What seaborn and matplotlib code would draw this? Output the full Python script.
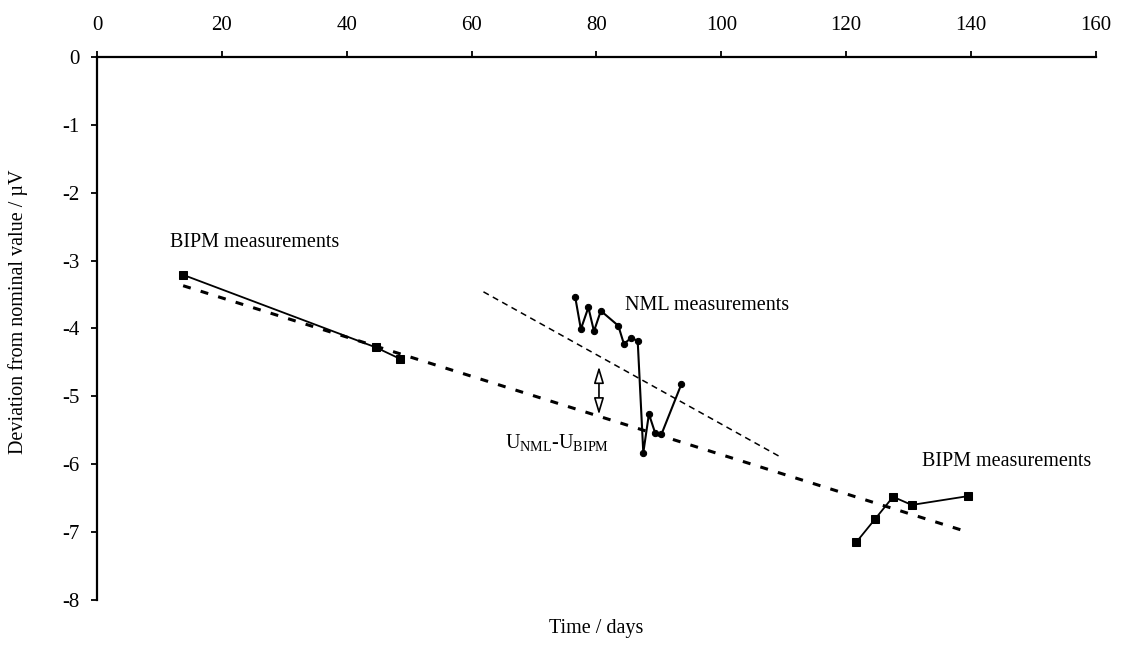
import matplotlib
matplotlib.use('Agg')
import matplotlib.pyplot as plt
import seaborn as sns
import pandas as pd

# ---- data ----
bipm1_days = [13.8, 44.7, 48.6]
bipm1_dev = [-3.21, -4.28, -4.45]

nml_days = [76.6, 77.5, 78.7, 79.6, 80.7, 83.5, 84.4, 85.5, 86.6, 87.5, 88.4, 89.4, 90.4, 93.6]
nml_dev = [-3.54, -4.01, -3.69, -4.04, -3.74, -3.96, -4.23, -4.14, -4.18, -5.83, -5.26, -5.54, -5.56, -4.82]

bipm2_days = [121.6, 124.6, 127.5, 130.5, 139.5]
bipm2_dev = [-7.15, -6.81, -6.48, -6.60, -6.47]

fit_bipm_days = [13.8, 139.5]
fit_bipm_dev = [-3.37, -7.00]

fit_nml_days = [61.9, 109.4]
fit_nml_dev = [-3.46, -5.89]

arrow_day = 80.4
arrow_top, arrow_bottom = -4.56, -5.27

x_ticks = [0, 20, 40, 60, 80, 100, 120, 140, 160]
y_ticks = [0, -1, -2, -3, -4, -5, -6, -7, -8]

sns.set_style('ticks')
plt.rcParams['font.family'] = ['Liberation Serif', 'DejaVu Serif']
plt.rcParams['axes.unicode_minus'] = False
plt.rcParams['mathtext.fontset'] = 'custom'
plt.rcParams['mathtext.rm'] = 'Liberation Serif'
plt.rcParams['mathtext.it'] = 'Liberation Serif:italic'
plt.rcParams['text.color'] = 'black'
plt.rcParams['axes.labelcolor'] = 'black'
plt.rcParams['xtick.color'] = 'black'
plt.rcParams['ytick.color'] = 'black'

fig = plt.figure(figsize=(11.25, 6.52), dpi=100)
ax = fig.add_axes([0.0862, 0.0798, 0.888, 0.8328])

# fitted trend lines
sns.lineplot(x=fit_bipm_days, y=fit_bipm_dev, ax=ax, color='black', lw=2.2,
             sort=False, estimator=None)
ax.lines[-1].set_dashes([2.6, 3.4])
sns.lineplot(x=fit_nml_days, y=fit_nml_dev, ax=ax, color='black', lw=1.1,
             sort=False, estimator=None)
ax.lines[-1].set_dashes([4, 3])

# measurement series
sns.lineplot(x=bipm1_days, y=bipm1_dev, ax=ax, color='black', lw=1.3, marker='s',
             markersize=6, markeredgecolor='black', sort=False, estimator=None)
sns.lineplot(x=nml_days, y=nml_dev, ax=ax, color='black', lw=1.5, marker='o',
             markersize=4.5, markeredgecolor='black', sort=False, estimator=None)
sns.lineplot(x=bipm2_days, y=bipm2_dev, ax=ax, color='black', lw=1.3, marker='s',
             markersize=6, markeredgecolor='black', sort=False, estimator=None)

# double arrow
ax.annotate('', xy=(arrow_day, arrow_top), xytext=(arrow_day, arrow_bottom),
            arrowprops=dict(arrowstyle='<|-|>,head_width=0.3,head_length=1.0',
                            fc='white', ec='black', lw=1.2, shrinkA=0, shrinkB=0))

# annotations
ax.text(11.7, -2.74, 'BIPM measurements', fontsize=14.5, va='center', ha='left')
ax.text(84.5, -3.66, 'NML measurements', fontsize=14.5, va='center', ha='left')
ax.text(132.1, -5.96, 'BIPM measurements', fontsize=14.5, va='center', ha='left')
ax.text(65.3, -5.68, r'U$_{\mathrm{NML}}$-U$_{\mathrm{BIPM}}$', fontsize=14.5,
        va='center', ha='left')

ax.set_xlim(0, 160)
ax.set_ylim(-8, 0)
ax.set_xticks(x_ticks)
ax.set_yticks(y_ticks)
ax.set_xticklabels([str(t) for t in x_ticks])
ax.set_yticklabels([str(t) for t in y_ticks])

ax.xaxis.tick_top()
ax.xaxis.set_label_position('bottom')
for s in ['right', 'bottom']:
    ax.spines[s].set_visible(False)
for s in ['top', 'left']:
    ax.spines[s].set_linewidth(1.6)
    ax.spines[s].set_color('black')
ax.tick_params(axis='x', direction='out', length=4, width=1.3, pad=12,
               labelsize=15, colors='black')
ax.tick_params(axis='y', direction='out', length=4.5, width=1.3, pad=8,
               labelsize=15, colors='black')

ax.set_xlabel('Time / days', fontsize=14.5, labelpad=14)
ax.set_ylabel('Deviation from nominal value / \u00b5V', fontsize=14.5)
ax.yaxis.set_label_coords(-0.069, 0.53)

fig.savefig('out.png', dpi=100, facecolor='white')
